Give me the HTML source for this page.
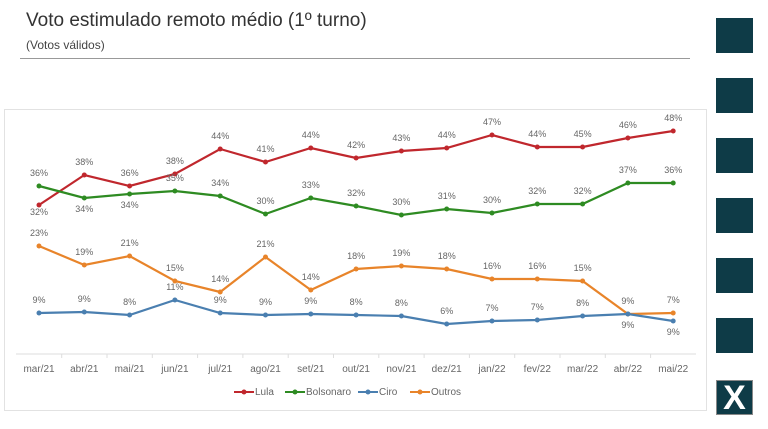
<!DOCTYPE html>
<html><head><meta charset="utf-8"><style>
body{margin:0;width:768px;height:429px;background:#fff;overflow:hidden;font-family:"Liberation Sans",sans-serif;position:relative}
.t{position:absolute;left:26px;top:10px;font-size:19px;color:#333}
.s{position:absolute;left:26px;top:38px;font-size:12px;color:#444}
.hr{position:absolute;left:20px;top:58px;width:670px;height:1px;background:#999}
.sq{position:absolute;left:716px;width:37px;height:35px;background:#0e3b47}
.box{position:absolute;left:4px;top:109px;width:701px;height:300px;border:1px solid #e2e2e2}
</style></head><body>
<div class="t">Voto estimulado remoto médio (1º turno)</div>
<div class="s">(Votos válidos)</div>
<div class="hr"></div>
<div class="sq" style="top:18px"></div><div class="sq" style="top:78px"></div><div class="sq" style="top:138px"></div><div class="sq" style="top:198px"></div><div class="sq" style="top:258px"></div><div class="sq" style="top:318px"></div>
<div class="sq" style="top:380px;font:bold 34px 'Liberation Sans',sans-serif;color:#fff;text-align:center;line-height:35px;border:1px solid #888;box-sizing:border-box">X</div>
<div class="box"></div>
<svg width="768" height="429" style="position:absolute;left:0;top:0" font-family="Liberation Sans" font-size="9" fill="#666">
<line x1="16" y1="354" x2="696" y2="354" stroke="#ddd"/>
<g id="g"></g>
</svg>
<script>
const xs=[...Array(15)].map((_,i)=>39+i*45.3);
const m=["mar/21","abr/21","mai/21","jun/21","jul/21","ago/21","set/21","out/21","nov/21","dez/21","jan/22","fev/22","mar/22","abr/22","mai/22"];
const S=[
["#c0272d",[205,175,186,174,149,162,148,158,151,148,135,147,147,138,131],[32,38,36,38,44,41,44,42,43,44,47,44,45,46,48]],
["#2e8b22",[186,198,194,191,196,214,198,206,215,209,213,204,204,183,183],[36,34,34,35,34,30,33,32,30,31,30,32,32,37,36]],
["#e8842a",[246,265,256,281,292,257,290,269,266,269,279,279,281,314,313],[23,19,21,15,14,21,14,18,19,18,16,16,15,9,7]],
["#4a7fb0",[313,312,315,300,313,315,314,315,316,324,321,320,316,314,321],[9,9,8,11,9,9,9,8,8,6,7,7,8,9,9]]];
let h="";
m.forEach((t,i)=>{h+=`<text x="${xs[i]}" y="372" text-anchor="middle" font-size="10">${t}</text>`;if(i>0)h+=`<line x1="${xs[i]-22.6}" y1="354" x2="${xs[i]-22.6}" y2="358" stroke="#ddd"/>`});
S.forEach(([c,ys,v],k)=>{h+=`<polyline fill="none" stroke="${c}" stroke-width="2.2" points="${ys.map((y,i)=>xs[i]+','+y).join(' ')}"/>`;
ys.forEach((y,i)=>{h+=`<circle cx="${xs[i]}" cy="${y}" r="2.5" fill="${c}"/>`;let dy=-10;
if(k==0&&i==0)dy=10; if(k==1&&(i==1||i==2))dy=14; if(k==3&&i>=13)dy=14;
h+=`<text x="${xs[i]}" y="${y+dy}" text-anchor="middle">${v[i]}%</text>`})});
const L=[["Lula",234,0],["Bolsonaro",285,1],["Ciro",358,3],["Outros",410,2]];
L.forEach(([n,x,k])=>{const c=S[k][0];h+=`<line x1="${x}" y1="392" x2="${x+20}" y2="392" stroke="${c}" stroke-width="2"/><circle cx="${x+10}" cy="392" r="2.5" fill="${c}"/><text x="${x+21}" y="395" font-size="10">${n}</text>`});
document.getElementById("g").innerHTML=h;
</script>
</body></html>
